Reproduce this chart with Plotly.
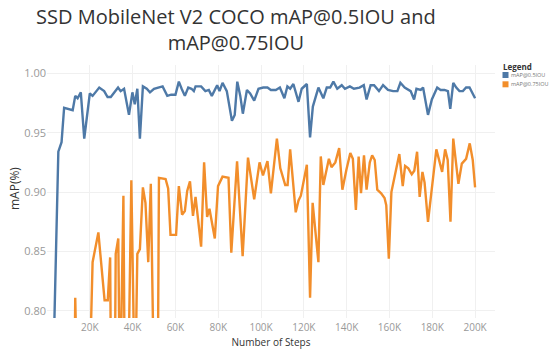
import plotly.graph_objects as go

# ---- data (steps in thousands) ----
steps_05 = [3.3, 5.3, 6.8, 8.0, 12.0, 13.2, 14.3, 15.8, 17.4, 20.0, 21.3, 22.8, 24.4, 26.7, 28.3, 29.8,
            33.2, 34.4, 36.0, 38.3, 39.9, 41.0, 42.2, 43.4, 44.8, 46.6, 48.1, 50.0, 52.0, 54.0, 56.2, 58.0,
            60.0, 61.6, 62.9, 64.4, 66.0, 67.5, 68.6, 69.4, 72.0, 74.0, 75.6, 77.0, 79.5, 80.6, 82.0, 84.0,
            86.4, 87.7, 88.9, 90.3, 91.5, 93.4, 94.9, 96.8, 98.8, 101.0, 103.0, 104.6, 106.9, 108.8, 110.9,
            112.3, 113.6, 115.1, 117.5, 119.0, 121.4, 122.9, 124.2, 126.8, 129.1, 130.7, 132.3, 133.8, 135.6,
            137.7, 139.2, 141.5, 143.4, 146.0, 148.0, 149.3, 151.2, 152.8, 155.1, 157.0, 159.3, 161.7, 163.7,
            165.1, 167.1, 169.9, 171.5, 172.6, 174.6, 175.7, 178.0, 179.8, 182.3, 183.9, 185.7, 187.3, 188.4,
            189.8, 191.2, 192.7, 194.3, 195.8, 197.4, 200.0]
map_05 = [0.78, 0.934, 0.942, 0.971, 0.969, 0.981, 0.979, 0.984, 0.945, 0.983, 0.981, 0.984, 0.988, 0.985, 0.980, 0.980,
          0.988, 0.985, 0.987, 0.965, 0.984, 0.974, 0.987, 0.945, 0.989, 0.987, 0.984, 0.987, 0.988, 0.989, 0.981, 0.982,
          0.982, 0.993, 0.987, 0.981, 0.988, 0.987, 0.985, 0.989, 0.989, 0.985, 0.986, 0.981, 0.990, 0.985, 0.992, 0.985,
          0.960, 0.965, 0.993, 0.981, 0.966, 0.986, 0.983, 0.977, 0.987, 0.988, 0.988, 0.986, 0.986, 0.988, 0.979,
          0.989, 0.987, 0.991, 0.976, 0.987, 0.991, 0.946, 0.972, 0.988, 0.979, 0.988, 0.988, 0.993, 0.987,
          0.990, 0.987, 0.989, 0.987, 0.988, 0.990, 0.978, 0.990, 0.990, 0.985, 0.990, 0.986, 0.985, 0.985,
          0.992, 0.988, 0.985, 0.978, 0.987, 0.986, 0.988, 0.965, 0.978, 0.988, 0.986, 0.986, 0.985, 0.970,
          0.992, 0.988, 0.985, 0.985, 0.988, 0.988, 0.979]

steps_075 = [12.7, 13.2, 14.2, 19.6, 21.3, 24.0, 26.9, 28.4, 29.5, 30.0, 31.6, 32.1, 33.3, 34.1, 35.7, 36.4,
             37.8, 39.4, 41.1, 42.2, 43.4, 44.8, 46.0, 47.3, 48.5, 50.1, 51.7, 52.3, 55.4, 56.6, 57.7, 60.3,
             61.6, 63.1, 64.4, 65.5, 66.8, 68.2, 69.4, 72.0, 73.4, 74.8, 75.9, 78.4, 79.9, 82.0, 84.8, 86.1,
             88.8, 91.4, 93.9, 96.8, 99.3, 100.9, 103.0, 104.6, 107.4, 109.0, 111.3, 112.4, 113.6, 116.2,
             117.5, 118.6, 121.4, 122.9, 124.1, 126.8, 127.9, 129.1, 131.7, 132.9, 134.7, 136.5, 138.0, 139.9,
             141.7, 142.9, 144.3, 145.6, 146.7, 148.1, 149.3, 150.8, 151.9, 153.1, 154.3, 156.1, 157.7, 158.5,
             159.7, 160.9, 162.4, 164.6, 166.2, 167.3, 168.8, 170.4, 171.6, 172.9, 174.1, 175.4, 176.4, 178.0,
             181.9, 184.6, 186.0, 187.2, 188.5, 189.8, 192.2, 193.8, 195.8, 197.5, 198.9, 200.0]
map_075 = [0.72, 0.811, 0.72, 0.72, 0.841, 0.866, 0.809, 0.809, 0.845, 0.72, 0.72, 0.848, 0.861, 0.72, 0.897, 0.72,
           0.72, 0.910, 0.72, 0.848, 0.852, 0.904, 0.891, 0.841, 0.907, 0.72, 0.72, 0.912, 0.911, 0.903, 0.864, 0.864,
           0.905, 0.881, 0.884, 0.901, 0.909, 0.880, 0.896, 0.854, 0.925, 0.879, 0.886, 0.861, 0.905, 0.913, 0.912, 0.849,
           0.926, 0.846, 0.929, 0.894, 0.925, 0.914, 0.926, 0.899, 0.945, 0.920, 0.906, 0.906, 0.936, 0.883,
           0.893, 0.897, 0.923, 0.811, 0.891, 0.841, 0.930, 0.906, 0.928, 0.921, 0.925, 0.937, 0.902, 0.919,
           0.933, 0.928, 0.885, 0.930, 0.899, 0.931, 0.902, 0.925, 0.931, 0.927, 0.902, 0.899, 0.895, 0.889,
           0.844, 0.900, 0.914, 0.932, 0.905, 0.922, 0.920, 0.915, 0.918, 0.934, 0.896, 0.917, 0.908, 0.875,
           0.936, 0.917, 0.936, 0.927, 0.875, 0.945, 0.907, 0.924, 0.928, 0.941, 0.927, 0.904]

assert len(steps_05) == len(map_05)
assert len(steps_075) == len(map_075)

series_names = ["mAP@0.5IOU", "mAP@0.75IOU"]
series_colors = ["#4e79a7", "#f28e2b"]

x_tick_vals = [20000, 40000, 60000, 80000, 100000, 120000, 140000, 160000, 180000, 200000]
x_tick_text = ["20K", "40K", "60K", "80K", "100K", "120K", "140K", "160K", "180K", "200K"]
y_tick_vals = [0.80, 0.85, 0.90, 0.95, 1.00]
y_tick_text = ["0.80", "0.85", "0.90", "0.95", "1.00"]

title_text = "SSD MobileNet V2 COCO mAP@0.5IOU and<br>mAP@0.75IOU"

W, H = 550, 351
L, R, T, B = 47, 55, 65, 33
plot_h = H - T - B
plot_w = W - L - R


def px_x(px):
    return (px - L) / plot_w


def px_y(py):
    return (H - B - py) / plot_h


fig = go.Figure()
for xs, ys, name, color in [(steps_05, map_05, series_names[0], series_colors[0]),
                            (steps_075, map_075, series_names[1], series_colors[1])]:
    fig.add_trace(go.Scatter(x=[v * 1000 for v in xs], y=ys, mode="lines", name=name,
                             line=dict(color=color, width=2.4), showlegend=False))

# title
fig.add_annotation(text=title_text, xref="paper", yref="paper",
                   x=px_x(236), y=px_y(1), xanchor="center", yanchor="top", showarrow=False,
                   font=dict(size=20, color="#333", family="Open Sans, sans-serif"))

# y axis title
fig.add_annotation(text="mAP(%)", xref="paper", yref="paper",
                   x=px_x(14), y=px_y(189), xanchor="center", yanchor="middle", showarrow=False,
                   textangle=-90, font=dict(size=12, color="#333"))

# legend (drawn by hand to match the compact square-key style)
fig.add_annotation(text="<b>Legend</b>", xref="paper", yref="paper",
                   x=px_x(501), y=px_y(67), xanchor="left", yanchor="middle", showarrow=False,
                   font=dict(size=8, color="#333"))
for i, (name, color) in enumerate(zip(series_names, series_colors)):
    cy = 75 + i * 9.3
    fig.add_shape(type="rect", xref="paper", yref="paper",
                  x0=px_x(502.5), x1=px_x(508.5), y0=px_y(cy - 3), y1=px_y(cy + 3),
                  fillcolor=color, line=dict(width=0))
    fig.add_annotation(text=name, xref="paper", yref="paper",
                       x=px_x(509), y=px_y(cy), xanchor="left", yanchor="middle", showarrow=False,
                       font=dict(size=5.5, color="#777"))

fig.update_layout(
    width=W, height=H,
    margin=dict(l=L, r=R, t=T, b=B, autoexpand=False),
    paper_bgcolor="white", plot_bgcolor="white",
    font=dict(family="Open Sans, sans-serif", color="#333"),
    showlegend=False,
    xaxis=dict(range=[0, 209300], tickvals=x_tick_vals, ticktext=x_tick_text,
               showgrid=True, gridcolor="#f0f0f0", gridwidth=1, zeroline=False,
               showline=False, ticks="", automargin=False, ticklabelstandoff=2,
               tickfont=dict(size=10, color="#999"),
               title=dict(text="Number of Steps", font=dict(size=10, color="#333"), standoff=5)),
    yaxis=dict(range=[0.794, 1.007], tickvals=y_tick_vals, ticktext=y_tick_text,
               showgrid=True, gridcolor="#f0f0f0", gridwidth=1, zeroline=False,
               showline=False, ticks="", automargin=False, ticklabelstandoff=0,
               tickfont=dict(size=11, color="#999")),
)

fig.write_html("out.html", config={"displayModeBar": False},
               post_script="document.body.style.margin='0';")
